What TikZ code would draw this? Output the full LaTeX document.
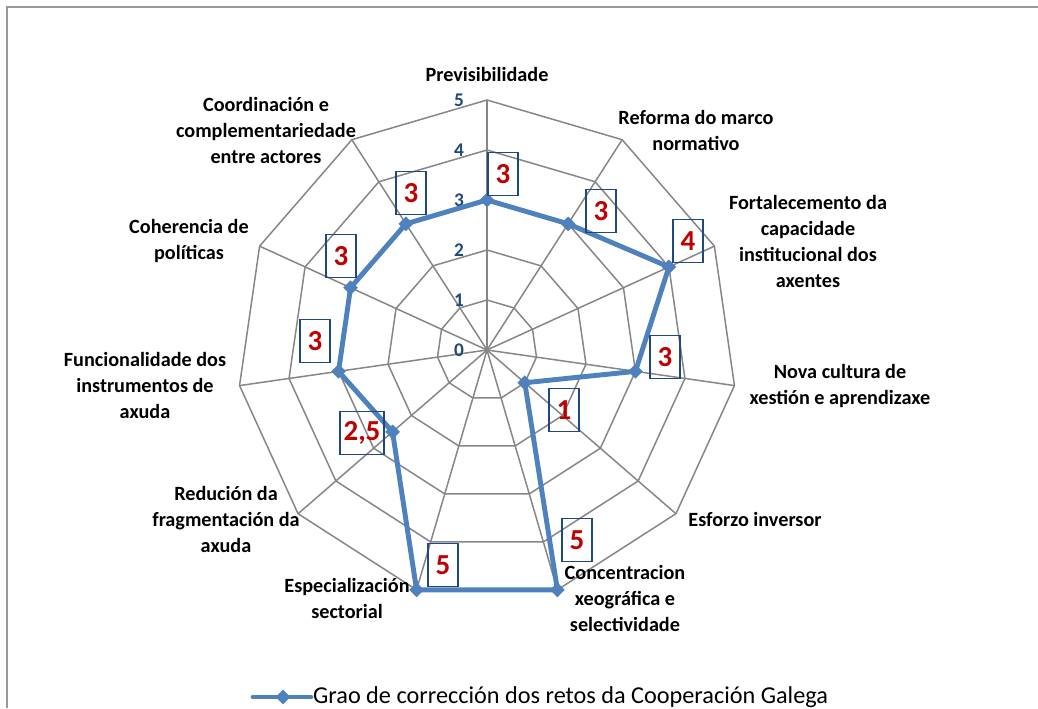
\documentclass[tikz,border=0pt]{standalone}
\usepackage{fontspec}
\setmainfont{Carlito}
\usepackage{xcolor}
\definecolor{gridgray}{HTML}{868686}
\definecolor{seriesblue}{HTML}{4F81BD}
\definecolor{tickblue}{HTML}{1F497D}
\definecolor{valuered}{HTML}{C00000}
\usetikzlibrary{shapes.geometric}

\begin{document}
\begin{tikzpicture}[
        gridline/.style={draw=gridgray, line width=0.85pt},
        frameline/.style={draw=gray!80, line width=1.2pt},
        seriesline/.style={draw=seriesblue, line width=2.8pt, line join=round},
        seriesmark/.style={diamond, fill=seriesblue, inner sep=0pt, minimum size=0.3cm},
        catlabel/.style={font=\fontsize{11.5}{14.8}\selectfont\bfseries, align=center},
        ticklabel/.style={font=\fontsize{11}{12}\selectfont\bfseries, text=tickblue, anchor=east, inner sep=1pt},
        valuebox/.style={draw=tickblue, line width=0.7pt, text=valuered, font=\fontsize{16.5}{18}\selectfont\bfseries, minimum width=0.6cm, minimum height=0.86cm, inner sep=2pt}
    ]
        \useasboundingbox (-9.74,-7.16) rectangle (11.02,7);
        \coordinate (framebl) at (-9.6,-7.16);
        \coordinate (frametr) at (11.02,6.86);
        \draw[frameline] (framebl) |- (frametr);

        % rings and spokes
        \foreach \r in {1,...,5}
            \draw[gridline] (90:\r) \foreach \k in {1,...,10}{ -- ({90-\k*360/11}:\r)} -- cycle;
        \foreach \k in {0,...,10}
            \draw[gridline] (0,0) -- ({90-\k*360/11}:5);
        \foreach \r in {0,...,5}
            \node[ticklabel] (t\r) at (-0.42,\r) {\r};

        % series
        \foreach \v [count=\k from 0] in {3,3,4,3,1,5,5,2.5,3,3,3}
            \coordinate (p\k) at ({90-\k*360/11}:\v);
        \draw[seriesline] (p0) \foreach \k in {1,...,10}{ -- (p\k)} -- cycle;
        \foreach \k in {0,...,10}
            \node[seriesmark] (m\k) at (p\k) {};

        \node[valuebox] (v0) at (0.32,3.52) {3};
        \node[valuebox] (v1) at (2.28,2.78) {3};
        \node[valuebox] (v2) at (4.02,2.18) {4};
        \node[valuebox] (v3) at (3.56,-0.14) {3};
        \node[valuebox] (v4) at (1.54,-1.2) {1};
        \node[valuebox] (v5) at (1.8,-3.8) {5};
        \node[valuebox] (v6) at (-0.88,-4.3) {5};
        \node[valuebox] (v7) at (-2.5,-1.66) {2,5};
        \node[valuebox] (v8) at (-3.44,0.18) {3};
        \node[valuebox] (v9) at (-2.92,1.88) {3};
        \node[valuebox] (v10) at (-1.52,3.14) {3};

        % axis names
        \node[catlabel] (c0) at (0,5.52) {Previsibilidade};
        \node[catlabel] (c1) at (4.18,4.4) {Reforma do marco\\normativo};
        \node[catlabel] (c2) at (6.42,2.18) {Fortalecemento da\\capacidade\\institucional dos\\axentes};
        \node[catlabel] (c3) at (7.06,-0.72) {Nova cultura de\\xestión e aprendizaxe};
        \node[catlabel] (c4) at (5.36,-3.38) {Esforzo inversor};
        \node[catlabel] (c5) at (2.76,-4.96) {Concentracion\\xeográfica e\\selectividade};
        \node[catlabel] (c6) at (-2.8,-4.96) {Especialización\\sectorial};
        \node[catlabel] (c7) at (-5.22,-3.38) {Redución da\\fragmentación da\\axuda};
        \node[catlabel] (c8) at (-6.84,-0.7) {Funcionalidade dos\\instrumentos de\\axuda};
        \node[catlabel] (c9) at (-5.96,2.18) {Coherencia de\\políticas};
        \node[catlabel] (c10) at (-4.42,4.4) {Coordinación e\\complementariedade\\entre actores};

        % legend
        \coordinate (legstart) at (-4.68,-6.94);
        \node[anchor=west, inner sep=1pt, font=\fontsize{13.8}{16}\selectfont] (legtext) at (-3.52,-6.94) {Grao de corrección dos retos da Cooperación Galega};
        \draw[seriesline, line cap=round] (legstart) -- (legtext.west);
        \node[seriesmark] (legmark) at (-4.08,-6.94) {};
    \end{tikzpicture}
\end{document}
